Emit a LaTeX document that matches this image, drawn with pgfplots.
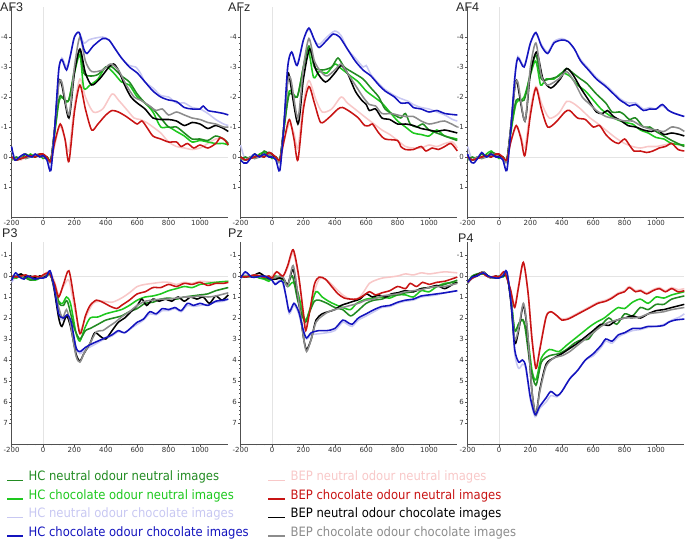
\documentclass[border=0pt]{standalone}
\usepackage{pgfplots}
\pgfplotsset{compat=1.18}
\usepackage{fontspec}
\setmainfont{Liberation Sans}
\newfontfamily\tickfont{DejaVu Sans}
\newfontfamily\legfont{DejaVu Sans Condensed}
\definecolor{hcN}{RGB}{34,139,34}
\definecolor{hcC}{RGB}{30,200,30}
\definecolor{hcNc}{RGB}{200,200,242}
\definecolor{hcCc}{RGB}{20,20,190}
\definecolor{bpN}{RGB}{248,200,200}
\definecolor{bpC}{RGB}{200,20,20}
\definecolor{bpNc}{RGB}{0,0,0}
\definecolor{bpCc}{RGB}{140,140,140}
\definecolor{axgray}{RGB}{80,80,80}
\definecolor{zerogray}{RGB}{228,228,228}
\definecolor{lblgray}{RGB}{50,50,50}
\pgfplotsset{
  erp/.style={
    scale only axis, width=216.7pt, xmin=-200, xmax=1180,
    y dir=reverse, clip=false,
    axis line style={draw=none},
    xtick={-200,0,200,400,600,800,1000},
    xticklabels={-200,0,200,400,600,800,1000},
    tick align=outside, xtick pos=left, ytick pos=left,
    major tick length=2.5pt, minor tick length=1.3pt,
    tick style={color=axgray, line width=0.4pt},
    minor x tick num=3, minor y tick num=4,
    ticklabel style={font=\tickfont\fontsize{7}{8}\selectfont, text=lblgray, inner sep=1pt},
    every axis plot/.append style={line width=1.55pt, smooth, tension=0.45},
  },
  toprow/.style={erp, height=210pt, ymin=-5, ymax=2,
    ytick={-4,-3,-2,-1,0,1}, yticklabels={-4,-3,-2,-1,0,1}},
  botrow/.style={erp, height=201.6pt, ymin=-1.6, ymax=8,
    ytick={-1,0,1,2,3,4,5,6,7}, yticklabels={-1,0,1,2,3,4,5,6,7}},
}
\newcommand{\frameax}[2]{%
  \draw[zerogray, line width=0.6pt] (axis cs:-200,0) -- (axis cs:1180,0);
  \draw[zerogray, line width=0.6pt] (axis cs:0,#1) -- (axis cs:0,#2);
  \draw[axgray, line width=0.6pt] (axis cs:-200,#1) -- (axis cs:-200,#2) -- (axis cs:1180,#2);
}
\begin{document}
\begin{tikzpicture}
\path[use as bounding box] (0pt,0pt) rectangle (685pt,541pt);

% ================= AF3
\begin{axis}[toprow, at={(11.6pt,324pt)}, anchor=south west]
\frameax{-5}{2}
\addplot[bpN] coordinates {(-200,0.1)(-170,0.05)(-140,0.1)(-110,0.0)(-80,-0.05)(-50,-0.1)(-20,-0.05)(0,0.0)(25,0.05)(50,0.15)(75,-0.4)(100,-0.95)(115,-1.0)(140,-0.6)(165,-0.2)(200,-1.7)(235,-2.6)(270,-2.0)(320,-1.5)(380,-1.6)(440,-2.1)(480,-1.9)(530,-1.6)(580,-1.3)(620,-1.25)(660,-1.15)(700,-1.0)(750,-0.8)(800,-0.5)(850,-0.35)(900,-0.3)(950,-0.25)(1000,-0.3)(1050,-0.45)(1100,-0.6)(1150,-0.6)(1180,-0.4)};
\addplot[hcNc] coordinates {(-200,-0.2)(-170,0.05)(-140,0.0)(-110,-0.1)(-80,0.0)(-50,-0.1)(-20,0.0)(0,0.0)(25,0.1)(50,0.35)(75,-0.9)(100,-2.8)(120,-3.3)(150,-3.0)(175,-3.4)(200,-4.0)(230,-4.15)(260,-3.8)(290,-3.9)(320,-3.95)(380,-4.0)(420,-3.9)(460,-3.6)(500,-3.3)(550,-3.05)(590,-3.0)(620,-2.8)(650,-2.5)(700,-2.3)(750,-2.05)(800,-2.0)(850,-1.8)(900,-1.8)(950,-1.65)(1000,-1.6)(1050,-1.45)(1100,-1.25)(1150,-1.1)(1180,-1.05)};
\addplot[hcC] coordinates {(-200,0.05)(-170,0.1)(-140,0.0)(-110,0.05)(-80,-0.1)(-50,0.0)(-20,-0.05)(0,0.05)(25,0.0)(50,0.1)(75,-0.8)(100,-1.8)(120,-2.0)(160,-1.85)(200,-2.8)(235,-3.4)(260,-2.3)(300,-2.4)(350,-2.6)(400,-3.0)(450,-2.8)(500,-2.5)(550,-2.4)(600,-2.0)(650,-1.8)(700,-1.5)(750,-1.0)(800,-1.0)(850,-0.85)(900,-0.7)(950,-0.5)(1000,-0.55)(1050,-0.5)(1100,-0.45)(1150,-0.45)(1180,-0.4)};
\addplot[hcN] coordinates {(-200,0.1)(-170,0.0)(-140,0.05)(-110,-0.1)(-80,0.0)(-50,-0.05)(-20,-0.1)(0,0.0)(25,0.0)(50,0.1)(75,-0.9)(105,-2.0)(130,-1.95)(165,-1.9)(200,-2.9)(235,-3.55)(260,-2.8)(300,-2.7)(350,-2.75)(400,-3.0)(440,-3.0)(500,-2.7)(550,-2.5)(600,-2.1)(650,-1.8)(700,-1.6)(750,-1.3)(800,-1.0)(850,-1.0)(900,-0.8)(950,-0.6)(1000,-0.6)(1050,-0.55)(1100,-0.7)(1150,-0.6)(1180,-0.45)};
\addplot[bpNc] coordinates {(-200,0.0)(-170,0.1)(-140,0.05)(-110,0.0)(-80,-0.05)(-50,0.0)(-20,-0.1)(0,0.0)(25,0.05)(50,0.1)(75,-1.0)(100,-2.5)(120,-2.4)(165,-1.3)(200,-2.8)(235,-3.6)(270,-2.8)(310,-2.4)(360,-2.6)(420,-3.0)(450,-3.1)(480,-2.9)(520,-2.4)(560,-2.0)(600,-1.8)(650,-1.6)(700,-1.3)(750,-1.25)(800,-1.25)(850,-1.2)(900,-1.05)(950,-1.15)(1000,-1.1)(1050,-0.95)(1100,-1.05)(1150,-0.95)(1180,-0.85)};
\addplot[bpCc] coordinates {(-200,0.05)(-170,0.1)(-140,0.0)(-110,0.05)(-80,0.0)(-50,-0.05)(-20,-0.1)(0,0.0)(25,0.05)(50,0.15)(75,-1.0)(100,-2.4)(120,-2.5)(165,-1.4)(200,-3.0)(235,-4.0)(270,-3.2)(310,-2.85)(380,-2.9)(430,-3.1)(480,-2.9)(530,-2.4)(580,-2.0)(620,-1.9)(680,-1.7)(720,-1.55)(760,-1.6)(800,-1.4)(850,-1.5)(900,-1.4)(950,-1.3)(1000,-1.25)(1050,-1.15)(1100,-1.1)(1150,-1.0)(1180,-1.0)};
\addplot[bpC] coordinates {(-200,0.0)(-170,0.1)(-140,0.05)(-110,0.0)(-80,-0.05)(-50,0.0)(-20,-0.1)(0,-0.1)(25,0.0)(50,0.15)(75,-0.5)(110,-1.1)(140,-0.6)(165,0.15)(200,-1.5)(235,-2.4)(270,-1.6)(310,-0.9)(350,-1.1)(400,-1.4)(440,-1.55)(480,-1.5)(530,-1.35)(570,-1.2)(600,-1.1)(630,-1.2)(660,-1.0)(700,-0.7)(750,-0.6)(800,-0.5)(850,-0.5)(880,-0.35)(920,-0.45)(960,-0.3)(1000,-0.4)(1050,-0.3)(1100,-0.45)(1130,-0.65)(1160,-0.55)(1180,-0.4)};
\addplot[hcCc] coordinates {(-200,-0.35)(-180,0.1)(-150,0.0)(-120,-0.1)(-100,-0.05)(-70,0.0)(-50,-0.1)(-20,0.0)(0,-0.05)(25,0.1)(50,0.45)(75,-1.0)(100,-2.9)(120,-3.25)(150,-2.9)(175,-3.4)(200,-4.0)(230,-4.15)(260,-3.6)(280,-3.45)(320,-3.7)(380,-3.95)(420,-3.9)(460,-3.6)(500,-3.3)(550,-3.0)(600,-2.8)(650,-2.5)(700,-2.2)(750,-2.0)(800,-1.9)(850,-1.85)(900,-1.65)(950,-1.6)(1000,-1.6)(1020,-1.7)(1050,-1.55)(1100,-1.5)(1150,-1.45)(1180,-1.4)};
\end{axis}

% ================= AFz
\begin{axis}[toprow, at={(240.6pt,324pt)}, anchor=south west]
\frameax{-5}{2}
\addplot[bpN] coordinates {(-200,0.0)(-170,0.1)(-140,0.0)(-110,-0.05)(-80,0.0)(-50,-0.1)(-20,0.0)(0,0.0)(25,0.05)(50,0.1)(75,-0.5)(110,-1.1)(140,-0.8)(165,-0.3)(200,-1.8)(235,-2.55)(280,-1.9)(320,-1.5)(380,-1.6)(440,-2.0)(480,-1.8)(540,-1.55)(600,-1.3)(650,-1.1)(700,-0.9)(750,-0.75)(800,-0.55)(850,-0.35)(900,-0.3)(950,-0.3)(1000,-0.4)(1050,-0.35)(1100,-0.45)(1150,-0.5)(1180,-0.3)};
\addplot[hcNc] coordinates {(-200,-0.4)(-170,0.1)(-140,0.0)(-110,-0.1)(-80,0.0)(-50,-0.1)(-20,0.0)(0,0.0)(25,0.1)(50,0.4)(75,-1.0)(100,-3.0)(125,-3.5)(160,-3.1)(200,-3.9)(235,-4.25)(270,-3.9)(300,-3.75)(350,-4.0)(400,-4.2)(440,-4.05)(480,-3.6)(530,-3.3)(580,-3.0)(600,-3.05)(630,-2.75)(680,-2.45)(720,-2.25)(780,-2.05)(820,-1.95)(870,-1.85)(900,-1.75)(950,-1.65)(1000,-1.6)(1050,-1.5)(1100,-1.4)(1150,-1.25)(1180,-1.2)};
\addplot[hcC] coordinates {(-200,0.05)(-170,0.1)(-140,0.0)(-110,0.05)(-80,-0.1)(-50,-0.15)(-20,-0.05)(0,0.05)(25,0.0)(50,0.1)(75,-0.9)(110,-2.2)(160,-2.0)(200,-3.0)(230,-3.6)(265,-2.65)(300,-2.85)(350,-2.8)(400,-3.1)(440,-2.95)(500,-2.7)(550,-2.5)(600,-2.2)(650,-2.0)(700,-1.8)(750,-1.5)(800,-1.2)(850,-1.0)(900,-0.8)(950,-0.75)(1000,-0.7)(1050,-0.9)(1100,-0.7)(1180,-0.6)};
\addplot[hcN] coordinates {(-200,0.1)(-170,0.0)(-140,0.05)(-110,-0.1)(-80,0.0)(-50,-0.2)(-20,-0.1)(0,0.0)(25,0.0)(50,0.1)(75,-0.9)(110,-2.1)(160,-2.0)(200,-3.0)(235,-3.7)(270,-3.0)(320,-2.9)(380,-3.0)(420,-3.3)(460,-3.0)(520,-2.8)(580,-2.6)(630,-2.3)(680,-2.0)(720,-1.6)(780,-1.4)(820,-1.3)(850,-1.45)(880,-1.1)(920,-1.0)(960,-1.1)(1000,-0.9)(1050,-0.8)(1100,-0.7)(1180,-0.55)};
\addplot[bpNc] coordinates {(-200,0.0)(-170,0.1)(-140,0.05)(-110,0.0)(-80,-0.05)(-50,0.0)(-20,-0.15)(0,-0.1)(25,0.05)(50,0.1)(75,-1.0)(100,-2.6)(110,-2.7)(165,-1.1)(200,-2.6)(240,-3.6)(280,-2.9)(340,-2.5)(400,-2.8)(440,-3.05)(480,-2.8)(530,-2.2)(570,-1.9)(600,-1.75)(620,-1.55)(660,-1.6)(700,-1.3)(750,-1.25)(800,-1.1)(850,-1.1)(900,-1.05)(950,-0.95)(1000,-0.9)(1050,-0.85)(1100,-0.9)(1180,-0.8)};
\addplot[bpCc] coordinates {(-200,0.05)(-170,0.1)(-140,0.0)(-110,0.05)(-80,0.0)(-50,-0.05)(-20,-0.1)(0,0.0)(25,0.05)(50,0.15)(75,-1.0)(100,-2.5)(120,-2.6)(165,-1.3)(200,-3.0)(235,-3.95)(270,-3.2)(310,-2.85)(350,-2.7)(400,-2.9)(440,-3.1)(480,-2.8)(530,-2.4)(580,-2.0)(620,-1.75)(660,-1.7)(700,-1.45)(760,-1.45)(800,-1.4)(850,-1.35)(900,-1.35)(950,-1.2)(1000,-1.1)(1050,-1.15)(1100,-1.2)(1180,-1.0)};
\addplot[bpC] coordinates {(-200,0.0)(-170,0.1)(-140,0.05)(-110,0.0)(-80,-0.05)(-50,0.0)(-20,-0.15)(0,-0.1)(25,0.0)(50,0.1)(75,-0.5)(110,-1.25)(140,-0.6)(165,0.1)(200,-1.6)(235,-2.35)(270,-1.8)(310,-1.15)(360,-1.3)(420,-1.6)(450,-1.65)(500,-1.5)(550,-1.3)(590,-1.05)(620,-1.05)(640,-1.1)(680,-0.8)(720,-0.6)(800,-0.55)(820,-0.35)(850,-0.25)(900,-0.25)(950,-0.35)(980,-0.2)(1020,-0.3)(1060,-0.25)(1100,-0.35)(1140,-0.45)(1180,-0.2)};
\addplot[hcCc] coordinates {(-200,0.1)(-180,0.2)(-160,0.2)(-130,0.0)(-110,-0.1)(-80,0.0)(-50,-0.1)(-20,0.0)(0,0.0)(25,0.1)(50,0.45)(75,-1.0)(100,-3.0)(125,-3.5)(160,-3.05)(200,-3.9)(235,-4.3)(270,-3.9)(300,-3.65)(350,-3.9)(390,-4.1)(430,-4.0)(480,-3.6)(530,-3.2)(580,-2.9)(630,-2.7)(680,-2.4)(720,-2.2)(780,-2.0)(820,-1.8)(870,-1.8)(900,-1.65)(950,-1.6)(1000,-1.5)(1050,-1.55)(1100,-1.45)(1180,-1.4)};
\end{axis}

% ================= AF4
\begin{axis}[toprow, at={(467.6pt,324pt)}, anchor=south west]
\frameax{-5}{2}
\addplot[bpN] coordinates {(-200,0.0)(-170,0.1)(-140,0.05)(-110,0.0)(-80,-0.05)(-50,-0.1)(-20,0.0)(0,0.0)(25,0.05)(50,0.1)(75,-0.5)(110,-1.0)(140,-0.7)(165,-0.3)(200,-1.6)(235,-2.35)(270,-1.8)(320,-1.3)(380,-1.45)(430,-1.85)(470,-1.8)(520,-1.6)(580,-1.3)(620,-1.15)(680,-0.9)(740,-0.65)(800,-0.45)(850,-0.35)(900,-0.3)(950,-0.35)(1000,-0.35)(1050,-0.4)(1100,-0.45)(1150,-0.4)(1180,-0.35)};
\addplot[hcNc] coordinates {(-200,-0.35)(-170,0.1)(-140,0.05)(-110,-0.1)(-80,0.0)(-50,-0.1)(-20,0.0)(0,0.0)(25,0.1)(50,0.4)(75,-0.9)(100,-2.7)(120,-3.35)(160,-3.05)(200,-3.8)(235,-4.1)(270,-3.75)(310,-3.5)(350,-3.85)(400,-3.95)(440,-3.85)(480,-3.6)(520,-3.25)(570,-2.95)(620,-2.65)(680,-2.4)(720,-2.2)(770,-1.95)(800,-1.85)(830,-1.8)(870,-1.8)(920,-1.6)(960,-1.65)(1000,-1.6)(1040,-1.7)(1080,-1.55)(1120,-1.45)(1180,-1.35)};
\addplot[hcC] coordinates {(-200,0.05)(-170,0.1)(-140,0.0)(-110,0.05)(-80,-0.1)(-50,-0.2)(-20,-0.05)(0,0.05)(25,0.0)(50,0.1)(75,-0.8)(110,-1.8)(160,-2.0)(230,-3.2)(265,-2.4)(300,-2.6)(350,-2.6)(400,-2.8)(450,-2.7)(500,-2.4)(550,-2.2)(600,-1.9)(650,-1.6)(700,-1.4)(750,-1.25)(800,-1.15)(850,-1.1)(900,-0.9)(950,-0.8)(1000,-0.65)(1050,-0.6)(1100,-0.45)(1180,-0.4)};
\addplot[hcN] coordinates {(-200,0.1)(-170,0.0)(-140,0.05)(-110,-0.1)(-80,0.0)(-50,-0.15)(-20,-0.1)(0,0.0)(25,0.0)(50,0.1)(75,-0.9)(110,-1.9)(160,-1.9)(200,-2.8)(235,-3.4)(270,-2.6)(320,-2.6)(380,-2.7)(430,-2.95)(470,-2.8)(520,-2.6)(560,-2.45)(620,-2.1)(680,-1.8)(720,-1.5)(770,-1.5)(800,-1.4)(830,-1.25)(870,-1.3)(920,-1.0)(960,-1.0)(1000,-0.85)(1050,-0.7)(1100,-0.55)(1180,-0.35)};
\addplot[bpNc] coordinates {(-200,0.0)(-170,0.1)(-140,0.05)(-110,0.0)(-80,-0.05)(-50,0.0)(-20,-0.1)(0,-0.05)(25,0.05)(50,0.1)(75,-1.0)(100,-2.3)(115,-2.5)(165,-1.2)(200,-2.8)(240,-3.5)(280,-2.6)(330,-2.3)(390,-2.6)(430,-2.95)(470,-2.75)(520,-2.3)(570,-1.9)(620,-1.5)(660,-1.45)(690,-1.55)(730,-1.35)(780,-1.2)(820,-1.05)(870,-1.0)(920,-0.9)(970,-0.85)(1010,-0.9)(1050,-0.75)(1100,-0.8)(1150,-0.75)(1180,-0.7)};
\addplot[bpCc] coordinates {(-200,0.05)(-170,0.1)(-140,0.0)(-110,0.05)(-80,0.0)(-50,-0.05)(-20,-0.1)(0,0.0)(25,0.05)(50,0.15)(75,-1.0)(100,-2.3)(120,-2.5)(165,-1.2)(200,-3.0)(235,-3.8)(270,-2.7)(310,-2.4)(380,-2.6)(430,-2.85)(480,-2.5)(530,-2.0)(580,-1.75)(620,-1.55)(680,-1.35)(720,-1.3)(800,-1.2)(850,-1.2)(900,-1.05)(950,-0.95)(1000,-0.9)(1050,-0.85)(1100,-1.0)(1150,-0.95)(1180,-0.85)};
\addplot[bpC] coordinates {(-200,0.0)(-170,0.1)(-140,0.05)(-110,0.0)(-80,-0.05)(-50,0.0)(-20,-0.1)(0,-0.1)(25,0.0)(50,0.1)(75,-0.5)(110,-1.05)(140,-0.6)(165,-0.05)(200,-1.4)(235,-2.3)(270,-1.6)(310,-1.0)(360,-1.15)(420,-1.5)(450,-1.55)(500,-1.3)(550,-1.25)(600,-1.0)(640,-1.05)(680,-0.75)(720,-0.55)(760,-0.45)(800,-0.6)(830,-0.4)(860,-0.2)(900,-0.2)(940,-0.15)(980,-0.2)(1020,-0.3)(1060,-0.35)(1100,-0.45)(1140,-0.25)(1180,-0.2)};
\addplot[hcCc] coordinates {(-200,-0.1)(-180,0.15)(-160,0.2)(-130,0.0)(-110,-0.15)(-80,0.0)(-50,-0.1)(-20,0.0)(0,0.0)(25,0.1)(50,0.45)(75,-0.9)(100,-2.6)(120,-3.3)(160,-3.0)(200,-3.8)(235,-4.15)(270,-3.7)(310,-3.45)(350,-3.8)(400,-3.9)(440,-3.85)(480,-3.6)(520,-3.2)(570,-2.9)(620,-2.6)(680,-2.35)(720,-2.15)(770,-1.9)(800,-1.8)(830,-1.7)(870,-1.75)(920,-1.55)(960,-1.6)(1000,-1.6)(1040,-1.75)(1080,-1.55)(1120,-1.45)(1180,-1.35)};
\end{axis}

% ================= P3
\begin{axis}[botrow, at={(11.6pt,97pt)}, anchor=south west]
\frameax{-1.6}{8}
\addplot[bpN] coordinates {(-200,0.1)(-170,0.0)(-140,-0.05)(-110,0.0)(-80,0.1)(-50,0.0)(-20,0.05)(0,-0.05)(30,-0.2)(50,-0.15)(75,0.3)(100,0.9)(130,0.5)(165,0.2)(200,1.5)(235,2.6)(270,2.0)(320,1.3)(380,1.2)(440,1.25)(500,1.05)(550,0.8)(600,0.5)(650,0.4)(700,0.35)(750,0.3)(800,0.3)(850,0.4)(900,0.3)(950,0.35)(1000,0.25)(1100,0.3)(1180,0.25)};
\addplot[hcNc] coordinates {(-200,0.3)(-170,0.0)(-140,0.05)(-110,0.1)(-80,0.0)(-50,0.1)(-20,0.1)(0,0.05)(25,0.0)(45,-0.2)(70,0.5)(100,1.9)(130,2.1)(155,1.9)(180,2.3)(210,3.4)(235,3.7)(270,3.5)(320,3.3)(380,3.05)(440,2.85)(480,2.65)(520,2.7)(570,2.45)(600,2.3)(640,2.1)(680,1.8)(720,1.85)(760,1.65)(800,1.65)(840,1.55)(880,1.7)(920,1.4)(960,1.45)(1000,1.4)(1050,1.35)(1100,1.25)(1150,1.2)(1180,1.1)};
\addplot[hcC] coordinates {(-200,0.05)(-170,0.1)(-140,0.0)(-110,0.05)(-80,0.15)(-50,0.2)(-20,0.1)(0,0.0)(25,-0.05)(45,-0.1)(70,0.4)(100,1.2)(125,1.3)(150,1.0)(175,1.3)(210,2.7)(235,3.1)(265,2.5)(300,2.0)(350,1.95)(400,1.8)(450,1.7)(500,1.6)(550,1.4)(600,1.15)(650,1.0)(700,0.95)(750,0.85)(800,0.7)(850,0.6)(900,0.5)(950,0.55)(1000,0.4)(1050,0.35)(1100,0.3)(1180,0.25)};
\addplot[hcN] coordinates {(-200,0.1)(-170,0.05)(-140,0.0)(-110,0.1)(-80,0.2)(-50,0.15)(-20,0.0)(0,0.05)(25,0.0)(45,-0.1)(70,0.4)(100,1.3)(130,1.4)(155,1.2)(200,2.5)(235,3.0)(270,2.6)(300,2.5)(350,2.3)(400,2.1)(450,2.0)(500,1.9)(550,1.7)(600,1.55)(650,1.3)(700,1.25)(750,1.1)(800,1.05)(850,1.1)(900,1.0)(950,0.95)(1000,0.9)(1050,0.85)(1100,0.7)(1180,0.55)};
\addplot[bpNc] coordinates {(-200,0.05)(-170,0.0)(-140,-0.1)(-110,0.05)(-80,0.0)(-50,0.1)(-20,0.0)(0,0.05)(25,-0.1)(45,-0.15)(70,0.6)(100,2.0)(120,2.4)(150,1.9)(175,2.4)(210,3.7)(235,4.05)(260,3.7)(300,3.2)(330,2.7)(370,2.9)(400,3.0)(440,2.6)(480,2.2)(520,2.0)(560,1.7)(600,1.4)(630,1.1)(660,1.4)(700,1.1)(740,1.2)(780,1.1)(820,1.2)(860,1.0)(900,1.2)(940,1.0)(980,1.1)(1020,1.0)(1060,1.3)(1100,0.95)(1140,1.15)(1180,0.9)};
\addplot[bpCc] coordinates {(-200,0.1)(-170,0.0)(-140,0.05)(-110,-0.05)(-80,0.05)(-50,0.0)(-20,0.1)(0,0.0)(25,-0.1)(45,-0.2)(70,0.5)(100,1.5)(125,2.0)(150,1.6)(175,2.3)(210,3.8)(235,4.1)(260,3.7)(300,3.2)(340,2.65)(380,2.6)(420,2.4)(460,2.2)(500,1.95)(550,1.7)(600,1.4)(650,1.2)(700,1.15)(750,1.1)(800,1.1)(850,1.05)(900,1.0)(950,1.0)(1000,0.95)(1050,1.0)(1100,0.95)(1180,0.8)};
\addplot[bpC] coordinates {(-200,0.0)(-170,0.05)(-140,0.0)(-110,-0.05)(-80,0.05)(-50,0.0)(-20,0.05)(0,-0.05)(30,-0.15)(50,0.0)(75,0.4)(100,1.0)(130,0.4)(165,-0.25)(200,1.2)(235,2.75)(270,1.9)(300,1.4)(340,1.15)(380,1.25)(430,1.45)(470,1.55)(500,1.4)(550,1.15)(600,0.85)(650,0.75)(700,0.55)(750,0.55)(800,0.4)(850,0.5)(900,0.35)(950,0.4)(1000,0.3)(1050,0.45)(1100,0.35)(1150,0.35)(1180,0.3)};
\addplot[hcCc] coordinates {(-200,0.2)(-175,-0.15)(-150,0.05)(-120,0.15)(-100,0.0)(-70,0.1)(-50,0.15)(-20,0.1)(0,0.1)(20,0.05)(45,-0.25)(70,0.5)(100,1.8)(130,2.0)(155,1.85)(180,2.2)(210,3.4)(235,3.6)(270,3.4)(320,3.2)(380,3.0)(440,2.8)(480,2.6)(520,2.7)(570,2.4)(600,2.2)(640,2.05)(680,1.7)(720,1.8)(760,1.55)(800,1.6)(840,1.5)(880,1.65)(920,1.3)(960,1.4)(1000,1.3)(1050,1.4)(1100,1.2)(1150,1.15)(1180,1.1)};
\end{axis}

% ================= Pz
\begin{axis}[botrow, at={(240.6pt,97pt)}, anchor=south west]
\frameax{-1.6}{8}
\addplot[bpN] coordinates {(-200,0.05)(-170,-0.1)(-140,0.0)(-110,0.05)(-80,-0.05)(-50,0.0)(-20,0.05)(0,0.0)(30,-0.2)(70,0.0)(100,-0.4)(135,-1.1)(170,0.1)(200,1.7)(215,2.4)(260,1.0)(300,0.15)(350,0.2)(400,0.55)(450,0.9)(500,1.1)(550,1.05)(580,0.8)(620,0.35)(660,0.2)(700,0.1)(750,0.05)(800,0.0)(850,-0.1)(900,-0.05)(950,-0.15)(1000,-0.1)(1050,-0.15)(1100,-0.2)(1180,-0.15)};
\addplot[hcNc] coordinates {(-200,0.15)(-170,-0.15)(-130,0.05)(-100,0.05)(-50,0.0)(-20,0.1)(0,0.2)(20,0.35)(60,0.2)(90,1.0)(110,1.8)(140,1.4)(170,1.8)(200,2.7)(220,3.0)(250,2.8)(300,2.75)(350,2.7)(400,2.6)(450,2.2)(480,2.3)(510,2.4)(550,2.1)(600,1.9)(650,1.7)(700,1.5)(750,1.45)(800,1.3)(850,1.2)(900,1.15)(950,1.0)(1000,0.95)(1050,0.9)(1100,0.8)(1180,0.7)};
\addplot[hcC] coordinates {(-200,0.05)(-170,0.0)(-140,0.05)(-110,0.0)(-80,0.1)(-50,0.15)(-20,0.25)(0,0.1)(25,0.0)(50,0.1)(75,0.2)(100,0.5)(135,0.3)(165,0.8)(210,2.1)(240,1.6)(280,0.75)(320,1.0)(360,1.2)(400,1.35)(450,1.5)(500,1.6)(540,1.3)(600,1.1)(650,1.05)(700,1.0)(750,1.05)(800,0.9)(850,0.9)(900,1.0)(950,0.7)(1000,0.75)(1050,0.5)(1100,0.35)(1180,0.3)};
\addplot[hcN] coordinates {(-200,0.0)(-170,0.05)(-140,0.0)(-110,0.05)(-80,0.0)(-50,0.1)(-20,0.15)(0,0.1)(25,0.05)(50,0.1)(75,0.2)(100,0.4)(130,0.0)(165,1.2)(210,2.2)(240,1.7)(270,1.2)(300,1.15)(350,1.3)(400,1.5)(450,1.6)(500,1.9)(540,1.7)(600,1.3)(650,1.15)(700,1.1)(750,0.95)(800,0.9)(850,0.8)(900,0.75)(950,0.6)(1000,0.55)(1050,0.5)(1100,0.4)(1180,0.2)};
\addplot[bpNc] coordinates {(-200,0.0)(-170,0.05)(-140,0.0)(-110,-0.05)(-80,-0.15)(-50,0.0)(-20,0.1)(0,0.15)(25,0.15)(50,0.1)(75,0.15)(100,0.4)(135,-0.3)(170,1.2)(200,2.9)(220,3.5)(250,3.0)(280,2.1)(320,1.8)(360,1.7)(400,1.6)(440,1.4)(480,1.3)(520,1.2)(560,1.1)(600,0.85)(640,1.0)(680,0.9)(720,1.0)(760,0.85)(800,0.8)(850,0.7)(900,0.75)(950,0.6)(1000,0.55)(1050,0.45)(1100,0.6)(1150,0.4)(1180,0.3)};
\addplot[bpCc] coordinates {(-200,0.05)(-170,0.0)(-140,0.05)(-110,-0.05)(-80,0.0)(-50,0.05)(-20,0.0)(0,0.1)(25,0.05)(50,0.0)(75,0.1)(100,0.5)(135,-0.5)(170,1.2)(200,2.9)(220,3.6)(250,3.0)(280,2.2)(320,1.9)(360,1.7)(400,1.6)(450,1.5)(500,1.4)(550,1.3)(600,1.15)(650,1.1)(700,0.95)(750,0.9)(800,0.85)(850,0.75)(900,0.7)(950,0.65)(1000,0.55)(1050,0.5)(1100,0.5)(1180,0.35)};
\addplot[bpC] coordinates {(-200,0.0)(-170,0.05)(-140,0.0)(-110,-0.05)(-80,0.0)(-50,0.05)(-20,0.0)(0,0.1)(30,-0.2)(70,0.0)(100,-0.5)(135,-1.25)(170,0.0)(200,1.8)(215,2.6)(240,1.7)(270,0.4)(300,0.05)(340,0.15)(380,0.5)(420,0.85)(460,1.05)(500,1.1)(540,1.1)(580,0.95)(620,0.75)(660,0.9)(700,0.8)(750,0.7)(800,0.5)(850,0.6)(880,0.35)(920,0.5)(960,0.3)(1000,0.4)(1050,0.3)(1100,0.25)(1180,0.05)};
\addplot[hcCc] coordinates {(-200,0.1)(-170,-0.2)(-130,0.05)(-100,0.05)(-50,0.0)(-20,0.1)(0,0.2)(20,0.4)(50,0.25)(70,0.3)(90,1.0)(110,1.7)(140,1.3)(170,1.7)(200,2.6)(220,2.95)(250,2.7)(300,2.6)(350,2.6)(400,2.5)(450,2.1)(480,2.2)(510,2.3)(550,2.0)(600,1.8)(650,1.6)(700,1.45)(750,1.4)(800,1.25)(850,1.15)(900,1.1)(950,0.95)(1000,0.9)(1050,0.85)(1100,0.8)(1180,0.7)};
\end{axis}

% ================= P4
\begin{axis}[botrow, at={(467.6pt,97pt)}, anchor=south west]
\frameax{-1.6}{8}
\addplot[bpN] coordinates {(-200,0.3)(-170,0.1)(-140,0.0)(-110,-0.2)(-80,0.0)(-50,0.05)(-20,0.0)(0,0.05)(30,-0.2)(50,0.1)(75,0.7)(100,1.4)(125,0.4)(155,-0.6)(185,0.8)(210,3.0)(235,4.3)(260,3.4)(300,1.9)(330,1.7)(370,1.9)(400,2.05)(440,2.0)(480,1.85)(530,1.65)(580,1.45)(630,1.25)(680,1.15)(720,1.0)(760,0.8)(800,0.7)(830,0.5)(870,0.7)(900,0.65)(940,0.8)(980,0.65)(1020,0.55)(1060,0.7)(1100,0.55)(1140,0.65)(1180,0.6)};
\addplot[hcNc] coordinates {(-200,0.3)(-170,0.1)(-140,0.0)(-110,-0.15)(-80,0.0)(-50,0.05)(-20,0.0)(0,0.1)(50,-0.2)(80,1.6)(100,3.7)(125,4.4)(150,4.2)(170,4.4)(200,5.9)(230,6.7)(260,6.3)(300,6.0)(330,5.7)(370,5.75)(400,5.5)(450,4.9)(500,4.5)(550,4.0)(600,3.8)(650,3.4)(680,3.1)(720,3.2)(760,2.9)(800,2.75)(850,2.6)(900,2.55)(950,2.45)(1000,2.4)(1050,2.3)(1100,2.1)(1150,1.95)(1180,1.8)};
\addplot[hcC] coordinates {(-200,0.35)(-170,0.0)(-140,-0.05)(-100,-0.1)(-70,0.0)(-50,0.05)(-20,0.1)(0,0.0)(25,0.05)(50,0.0)(75,1.0)(100,2.6)(125,2.3)(150,2.1)(180,2.8)(210,4.5)(235,4.95)(270,3.9)(320,3.5)(380,3.6)(430,3.3)(480,3.0)(530,2.7)(580,2.4)(620,2.2)(670,2.0)(720,1.7)(760,1.5)(800,1.55)(850,1.25)(900,1.1)(950,1.3)(1000,1.0)(1050,1.05)(1100,0.9)(1180,0.75)};
\addplot[hcN] coordinates {(-200,0.3)(-170,0.0)(-140,-0.1)(-100,-0.15)(-70,0.0)(-50,0.05)(-20,0.1)(0,0.05)(25,0.0)(50,0.0)(75,1.0)(100,2.6)(130,2.2)(160,2.2)(200,4.3)(235,5.2)(270,4.1)(320,3.8)(380,3.7)(430,3.5)(480,3.2)(520,3.05)(570,3.0)(600,2.7)(650,2.35)(700,2.0)(750,2.3)(800,1.8)(850,1.9)(900,1.5)(950,1.6)(1000,1.35)(1050,1.35)(1100,1.1)(1180,0.95)};
\addplot[bpNc] coordinates {(-200,0.3)(-170,0.05)(-140,-0.05)(-100,-0.2)(-70,0.0)(-50,0.1)(-20,0.0)(0,0.05)(25,0.0)(50,-0.1)(75,1.2)(100,3.2)(125,2.6)(155,1.4)(180,2.6)(210,5.5)(235,6.6)(260,5.4)(300,4.2)(350,3.9)(400,3.7)(450,3.45)(500,3.2)(550,2.9)(600,2.6)(650,2.3)(700,2.35)(750,2.1)(800,2.0)(850,1.9)(900,2.0)(950,1.8)(1000,1.65)(1050,1.6)(1100,1.5)(1180,1.35)};
\addplot[bpCc] coordinates {(-200,0.35)(-170,0.1)(-140,0.0)(-100,-0.2)(-70,0.05)(-50,0.1)(-20,0.05)(0,0.0)(25,-0.05)(50,-0.1)(75,1.0)(100,3.0)(125,2.5)(155,1.3)(180,2.5)(210,5.5)(235,6.6)(260,5.5)(300,4.3)(350,3.9)(400,3.8)(450,3.6)(500,3.3)(550,3.0)(600,2.7)(650,2.4)(700,2.2)(750,2.1)(800,2.0)(850,2.0)(900,1.95)(950,1.8)(1000,1.75)(1050,1.7)(1100,1.6)(1180,1.5)};
\addplot[bpC] coordinates {(-200,0.3)(-170,0.1)(-140,0.0)(-110,-0.15)(-80,0.0)(-50,0.05)(-20,0.0)(0,0.05)(30,-0.2)(50,0.1)(75,0.7)(100,1.5)(125,0.5)(155,-0.65)(185,0.8)(210,3.0)(235,4.4)(260,3.5)(300,1.95)(330,1.7)(370,1.9)(400,2.1)(440,2.05)(480,1.9)(530,1.7)(580,1.5)(630,1.3)(680,1.2)(720,1.05)(760,0.85)(800,0.75)(830,0.55)(870,0.75)(900,0.7)(940,0.85)(980,0.7)(1020,0.6)(1060,0.75)(1100,0.6)(1140,0.75)(1180,0.7)};
\addplot[hcCc] coordinates {(-200,0.3)(-170,0.05)(-140,0.0)(-100,-0.15)(-70,0.0)(-50,0.05)(-20,0.1)(0,0.1)(25,0.0)(50,-0.2)(80,1.5)(100,3.5)(125,4.1)(150,4.0)(170,4.3)(200,5.8)(230,6.6)(260,6.2)(300,5.8)(330,5.5)(370,5.7)(400,5.5)(450,4.9)(500,4.5)(550,4.0)(600,3.7)(650,3.3)(680,3.0)(720,3.1)(760,2.8)(800,2.7)(850,2.5)(900,2.5)(950,2.4)(1000,2.4)(1050,2.35)(1080,2.2)(1120,2.1)(1180,2.05)};
\end{axis}

% ================= panel titles
\begin{scope}[every node/.style={font=\fontsize{12.5}{13}\selectfont, text=black!85, inner sep=0pt, anchor=west}]
\node at (0pt,534pt) {AF3};
\node at (228pt,534pt) {AFz};
\node at (456pt,533.5pt) {AF4};
\node at (2pt,308pt) {P3};
\node at (228pt,308pt) {Pz};
\node at (458pt,303pt) {P4};
\end{scope}

% ================= legend
\begin{scope}[every node/.style={font=\legfont\fontsize{12.9}{14}\selectfont, inner sep=0pt, anchor=base west}, line width=1.2pt]
\draw[hcN]  (7pt,60.5pt) -- (23pt,60.5pt);   \node[text=hcN]  at (28pt,60.5pt) {HC neutral odour neutral images};
\draw[hcC]  (7pt,42pt) -- (23pt,42pt);       \node[text=hcC]  at (28pt,42pt) {HC chocolate odour neutral images};
\draw[hcNc] (7pt,23.5pt) -- (23pt,23.5pt);   \node[text=hcNc] at (28pt,23.5pt) {HC neutral odour chocolate images};
\draw[hcCc] (7pt,5pt) -- (23pt,5pt);         \node[text=hcCc] at (28pt,5pt) {HC chocolate odour chocolate images};
\draw[bpN]  (268pt,60.5pt) -- (285pt,60.5pt); \node[text=bpN]  at (290pt,60.5pt) {BEP neutral odour neutral images};
\draw[bpC]  (268pt,42pt) -- (285pt,42pt);     \node[text=bpC]  at (290pt,42pt) {BEP chocolate odour neutral images};
\draw[bpNc] (268pt,23.5pt) -- (285pt,23.5pt); \node[text=bpNc] at (290pt,23.5pt) {BEP neutral odour chocolate images};
\draw[bpCc] (268pt,5pt) -- (285pt,5pt);       \node[text=bpCc] at (290pt,5pt) {BEP chocolate odour chocolate images};
\end{scope}
\end{tikzpicture}
\end{document}
